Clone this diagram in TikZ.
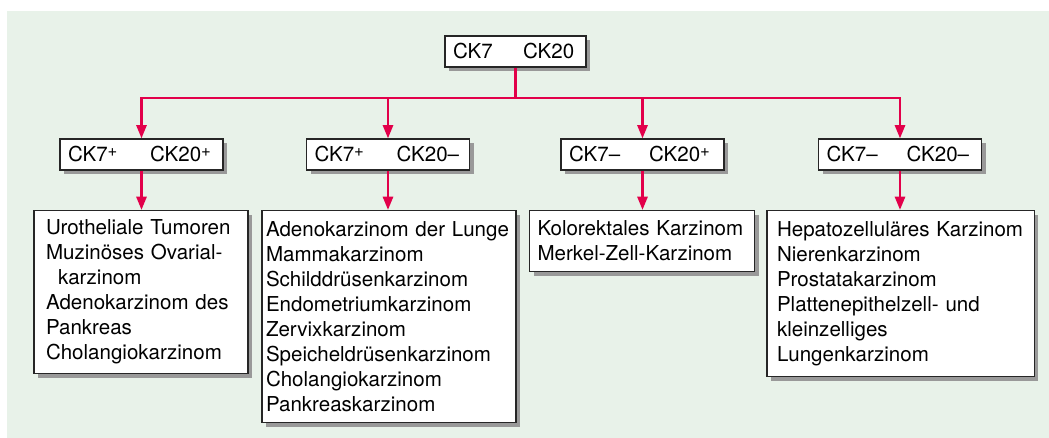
\documentclass[tikz,border=0pt]{standalone}
\usepackage{fontspec}
\setmainfont{TeX Gyre Heros}
\usepackage{xcolor}
\usetikzlibrary{arrows.meta,shadows}

\definecolor{bggreen}{RGB}{232,242,233}
\definecolor{ckred}{RGB}{226,0,74}
\newcommand{\ckfont}{\fontsize{15.4}{18.75}\selectfont}
\newcommand{\ckplus}{\raisebox{3.8pt}{\fontsize{12.5}{12.5}\selectfont +}}

\tikzset{
  ckbox/.style={draw=black!85, fill=white, line width=0.8pt, align=left, inner ysep=0pt, font=\ckfont,
    drop shadow={shadow xshift=3pt, shadow yshift=-3pt, fill=black!40, opacity=1}},
  ckline/.style={draw=ckred, line width=2pt},
  ckarrow/.style={ckline, -{Triangle[length=10pt,width=7.5pt]}},
}

\begin{document}
\begin{tikzpicture}[x=0.75pt,y=0.75pt,yscale=-1,xscale=1]
\useasboundingbox (0,0) rectangle (1049,438);
%Background
\fill [bggreen] (7,11) rectangle (1049,438);

% Text Node
\node (top) at (515.5,51.5) [ckbox, inner xsep=6pt, text width=93.75pt, minimum height=23.25pt] {\makebox[52.5pt][l]{CK7}CK20};

% Text Node
\node (pp) at (141.5,154.5) [ckbox, inner xsep=6pt, text width=110.25pt, minimum height=23.25pt] {\makebox[61.5pt][l]{CK7\ckplus}CK20\ckplus};
% Text Node
\node (pm) at (388,154.5) [ckbox, inner xsep=6pt, text width=110.25pt, minimum height=23.25pt] {\makebox[61.5pt][l]{CK7\ckplus}CK20–};
% Text Node
\node (mp) at (642.5,154.5) [ckbox, inner xsep=6pt, text width=110.25pt, minimum height=23.25pt] {\makebox[60pt][l]{CK7–}CK20\ckplus};
% Text Node
\node (mm) at (900,154.5) [ckbox, inner xsep=6pt, text width=110.25pt, minimum height=23.25pt] {\makebox[60pt][l]{CK7–}CK20–};

% Text Node
\node (listpp) at (141,210) [ckbox, anchor=north, inner xsep=9pt, text width=142.5pt, minimum height=122.25pt] {Urotheliale Tumoren\\ Muzinöses Ovarial-\\ \hspace*{9pt}karzinom\\ Adenokarzinom des\\ Pankreas\\ Cholangiokarzinom};
% Text Node
\node (listpm) at (389,210) [ckbox, anchor=north, inner xsep=3pt, text width=184.5pt, minimum height=159pt] {Adenokarzinom der Lunge\\ Mammakarzinom\\ Schilddrüsenkarzinom\\ Endometriumkarzinom\\ Zervixkarzinom\\ Speicheldrüsenkarzinom\\ Cholangiokarzinom\\ Pankreaskarzinom};
% Text Node
\node (listmp) at (642,210) [ckbox, anchor=north, inner xsep=6pt, text width=156.75pt, minimum height=45.75pt] {Kolorektales Karzinom\\ Merkel-Zell-Karzinom};
% Text Node
\node (listmm) at (900.75,210) [ckbox, anchor=north, inner xsep=7.5pt, text width=185.6pt, minimum height=124.5pt] {Hepatozelluläres Karzinom\\ Nierenkarzinom\\ Prostatakarzinom\\ Plattenepithelzell- und\\ kleinzelliges\\ Lungenkarzinom};

%Straight Lines
\coordinate (hub) at (515.5,98);
\draw [ckline] (top.south) -- (hub);
\draw [ckarrow] (hub) -| (pp.north);
\draw [ckarrow] (hub) -| (pm.north);
\draw [ckarrow] (hub) -| (mp.north);
\draw [ckarrow] (hub) -| (mm.north);
%Straight Lines
\draw [ckarrow] (pp.south) -- (pp.south |- listpp.north);
\draw [ckarrow] (pm.south) -- (pm.south |- listpm.north);
\draw [ckarrow] (mp.south) -- (mp.south |- listmp.north);
\draw [ckarrow] (mm.south) -- (mm.south |- listmm.north);

\end{tikzpicture}
\end{document}
